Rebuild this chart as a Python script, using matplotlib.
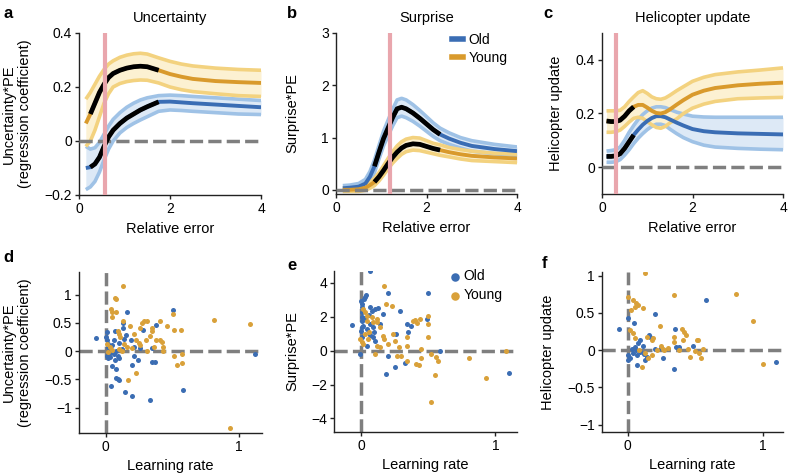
import numpy as np
import matplotlib
matplotlib.use("Agg")
import matplotlib.pyplot as plt
from matplotlib.lines import Line2D

plt.rcParams['font.family'] = ['Liberation Sans', 'DejaVu Sans']

# ---------------- data: panel a (Uncertainty) ----------------
a_x = [0.15, 0.25, 0.35, 0.45, 0.55, 0.65, 0.75, 0.9, 1.05, 1.2, 1.35, 1.5, 1.75, 2.0, 2.25, 2.5, 3.0, 3.5, 4.0]
a_young = [0.065, 0.10, 0.14, 0.18, 0.21, 0.235, 0.25, 0.262, 0.27, 0.275, 0.277, 0.275, 0.262, 0.248, 0.238, 0.23, 0.222, 0.218, 0.215]
a_young_hi = [0.155, 0.18, 0.21, 0.24, 0.265, 0.285, 0.297, 0.31, 0.318, 0.323, 0.325, 0.322, 0.308, 0.295, 0.285, 0.278, 0.27, 0.265, 0.262]
a_young_lo = [-0.02, 0.0, 0.04, 0.09, 0.14, 0.175, 0.2, 0.213, 0.22, 0.224, 0.226, 0.225, 0.215, 0.2, 0.19, 0.183, 0.175, 0.168, 0.165]
a_old = [-0.1, -0.097, -0.085, -0.06, -0.02, 0.015, 0.04, 0.065, 0.085, 0.1, 0.115, 0.127, 0.145, 0.146, 0.143, 0.14, 0.135, 0.13, 0.125]
a_old_hi = [-0.02, -0.03, -0.025, -0.005, 0.025, 0.055, 0.08, 0.105, 0.125, 0.14, 0.152, 0.16, 0.168, 0.17, 0.168, 0.165, 0.16, 0.155, 0.15]
a_old_lo = [-0.18, -0.17, -0.15, -0.115, -0.07, -0.03, 0.0, 0.03, 0.05, 0.065, 0.078, 0.09, 0.11, 0.115, 0.113, 0.11, 0.105, 0.1, 0.098]
a_sig_young = (0.25, 1.75)
a_sig_old = (0.25, 1.75)
a_marker = 0.57

# ---------------- data: panel b (Surprise) ----------------
b_x = [0.15, 0.3, 0.5, 0.65, 0.75, 0.85, 0.95, 1.05, 1.15, 1.25, 1.35, 1.45, 1.55, 1.7, 1.85, 2.0, 2.15, 2.3, 2.5, 2.75, 3.0, 3.5, 4.0]
b_old = [0.03, 0.04, 0.06, 0.12, 0.25, 0.45, 0.72, 0.98, 1.18, 1.38, 1.55, 1.58, 1.55, 1.47, 1.37, 1.26, 1.15, 1.06, 0.98, 0.9, 0.84, 0.78, 0.74]
b_old_sem = [0.05, 0.05, 0.06, 0.08, 0.1, 0.12, 0.13, 0.14, 0.15, 0.16, 0.17, 0.17, 0.17, 0.16, 0.15, 0.14, 0.13, 0.12, 0.11, 0.1, 0.1, 0.09, 0.08]
b_young = [0.0, 0.0, 0.01, 0.04, 0.09, 0.15, 0.25, 0.37, 0.5, 0.62, 0.72, 0.8, 0.85, 0.88, 0.87, 0.83, 0.79, 0.76, 0.72, 0.68, 0.65, 0.62, 0.6]
b_young_sem = [0.03, 0.03, 0.04, 0.05, 0.06, 0.07, 0.08, 0.09, 0.1, 0.11, 0.12, 0.12, 0.12, 0.12, 0.12, 0.11, 0.1, 0.1, 0.09, 0.09, 0.09, 0.08, 0.08]
b_sig_young = (0.85, 2.3)
b_sig_old = (0.85, 2.3)
b_marker = 1.2

# ---------------- data: panel c (Helicopter update) ----------------
c_x = [0.1, 0.2, 0.3, 0.4, 0.5, 0.6, 0.7, 0.8, 0.9, 1.0, 1.1, 1.2, 1.3, 1.4, 1.5, 1.65, 1.8, 2.0, 2.25, 2.5, 3.0, 3.5, 4.0]
c_young = [0.172, 0.17, 0.17, 0.175, 0.19, 0.21, 0.225, 0.232, 0.232, 0.222, 0.21, 0.202, 0.2, 0.205, 0.215, 0.233, 0.25, 0.27, 0.285, 0.295, 0.305, 0.311, 0.315]
c_young_hi = [0.21, 0.21, 0.21, 0.212, 0.225, 0.245, 0.262, 0.278, 0.285, 0.275, 0.262, 0.255, 0.253, 0.258, 0.268, 0.285, 0.3, 0.32, 0.335, 0.345, 0.355, 0.362, 0.37]
c_young_lo = [0.13, 0.13, 0.132, 0.138, 0.152, 0.168, 0.182, 0.186, 0.182, 0.17, 0.158, 0.148, 0.145, 0.152, 0.165, 0.18, 0.2, 0.22, 0.235, 0.245, 0.255, 0.258, 0.26]
c_old = [0.04, 0.04, 0.042, 0.05, 0.07, 0.095, 0.12, 0.14, 0.158, 0.172, 0.183, 0.19, 0.19, 0.186, 0.178, 0.166, 0.155, 0.142, 0.134, 0.13, 0.126, 0.124, 0.122]
c_old_hi = [0.06, 0.062, 0.065, 0.075, 0.1, 0.13, 0.155, 0.178, 0.196, 0.21, 0.22, 0.225, 0.225, 0.222, 0.215, 0.205, 0.198, 0.19, 0.187, 0.186, 0.186, 0.186, 0.186]
c_old_lo = [0.018, 0.018, 0.02, 0.028, 0.045, 0.065, 0.088, 0.108, 0.125, 0.14, 0.152, 0.16, 0.16, 0.155, 0.142, 0.125, 0.11, 0.095, 0.082, 0.075, 0.07, 0.067, 0.065]
c_sig_young = (0.1, 0.7)
c_sig_old = (0.1, 0.75)
c_marker = 0.31

# ---------------- data: panel d ----------------
d_old_x = [-0.07, 0.01, 0.005, 0.01, 0.015, 0.02, 0.01, 0.015, 0.07, 0.13, 0.13, 0.16, 0.5, 0.38, 0.28, 0.14, 0.19, 0.21, 0.35, 0.35, 0.37, 0.21, 0.24, 0.2, 0.045, 0.07, 0.08, 0.03, 0.06, 0.09, 0.08, 0.09, 0.1, 0.04, 0.145, 0.2, 0.33, 0.58, 1.12, 0.04, 0.05, 0.1, 0.12, 0.08, 0.03, 0.1, 0.15, 0.06, 0.26]
d_old_y = [0.24, 0.34, 0.25, 0.19, 0.12, 0.07, -0.08, -0.12, 0.36, 0.49, 0.41, 0.69, 0.72, 0.47, 0.38, 0.22, 0.19, 0.07, 0.06, -0.2, -0.2, -0.08, -0.16, -0.25, -0.27, -0.16, -0.31, -0.1, -0.05, -0.08, -0.47, -0.49, -0.52, -0.62, -0.72, -0.79, -0.86, -0.68, -0.06, 0.02, 0.1, 0.15, 0.03, 0.0, -0.03, -0.12, 0.28, 0.2, 0.05]
d_young_x = [0.13, 0.07, 0.08, 0.04, 0.045, 0.08, 0.045, 0.81, 1.08, 0.27, 0.29, 0.31, 0.41, 0.5, 0.51, 0.56, 0.46, 0.35, 0.35, 0.26, 0.095, 0.1, 0.11, 0.13, 0.18, 0.21, 0.23, 0.26, 0.3, 0.33, 0.38, 0.41, 0.42, 0.43, 0.43, 0.51, 0.53, 0.57, 0.57, 0.23, 0.17, 0.93, 0.01, 0.03, 0.05, 0.1, 0.12, 0.16, 0.2, 0.36, 0.31, 0.02, 0.14, 0.25]
d_young_y = [1.16, 0.94, 0.92, 0.75, 0.69, 0.7, 0.6, 0.55, 0.48, 0.5, 0.53, 0.54, 0.53, 0.66, 0.38, 0.38, 0.45, 0.41, 0.35, 0.4, 0.36, 0.3, 0.25, 0.54, 0.45, 0.31, 0.19, 0.1, 0.19, 0.26, 0.19, 0.19, 0.16, 0.07, 0.01, -0.08, -0.24, -0.21, -0.05, -0.39, -0.52, -1.37, 0.13, 0.07, 0.02, 0.04, 0.0, 0.08, 0.05, 0.07, 0.0, -0.02, 0.12, 0.15]

# ---------------- data: panel e ----------------
e_old_x = [-0.064, 0.067, 0.0, 0.005, 0.005, 0.005, 0.005, 0.005, 0.005, 0.0, 0.005, 0.02, 0.037, 0.03, 0.067, 0.08, 0.104, 0.129, 0.166, 0.2, 0.5, 0.29, 0.34, 0.375, 0.35, 0.49, 0.26, 0.067, 0.09, 0.104, 0.042, -0.007, 0.2, 0.25, 0.19, 0.33, 0.59, 1.1, 0.017, 0.042, 0.067, 0.092, 0.06, 0.1, 0.03, 0.14]
e_old_y = [1.52, 4.69, 2.95, 2.75, 2.55, 2.27, 1.97, 1.77, 1.38, 1.18, 0.79, 3.05, 3.3, 3.15, 2.56, 2.36, 2.46, 2.5, 2.17, 3.4, 3.4, 2.36, 1.57, 1.48, 1.08, 1.87, 1.0, 0.9, 0.79, 0.59, 0.3, -0.2, -0.3, -0.95, -1.38, -0.75, 0.0, -1.34, 1.48, 1.28, 1.58, 1.38, 2.1, 1.1, 1.9, 1.6]
e_young_x = [0.17, 0.19, 0.23, 0.017, 0.03, 0.042, 0.042, 0.08, 0.092, 0.116, 0.116, 0.141, 0.166, 0.171, 0.24, 0.25, 0.39, 0.4, 0.415, 0.44, 0.5, 0.5, 0.5, 0.34, 0.34, -0.007, 0.005, 0.017, 0.104, 0.141, 0.265, 0.3, 0.34, 0.413, 0.433, 0.45, 0.52, 0.56, 0.57, 0.55, 0.52, 0.8, 0.93, 1.08, 0.05, 0.06, 0.03, 0.2, 0.12, 0.28, 0.45]
e_young_y = [3.84, 2.76, 2.66, 2.46, 2.27, 2.07, 1.77, 1.97, 1.67, 1.87, 1.67, 1.38, 0.89, 0.69, 1.0, 0.59, 1.77, 1.81, 1.62, 1.87, 2.07, 0.79, 1.58, 0.79, 0.3, 0.69, 0.49, 0.4, -0.2, 0.2, -0.33, -0.3, -0.63, -0.79, -0.83, -0.45, -0.2, -0.35, -0.63, -1.42, -3.05, -0.43, -1.64, 0.0, 0.7, 1.1, 1.0, 0.4, 0.3, 0.2, 0.1]

# ---------------- data: panel f ----------------
f_old_x = [-0.064, 0.005, 0.05, 0.2, 0.58, 0.35, 0.16, 0.165, 0.09, 0.08, 0.055, 0.065, 0.0, 0.017, 0.005, 0.066, 0.128, 0.14, 0.26, 0.34, 0.36, 0.38, 0.48, 1.1, 0.04, 0.07, 0.095, 0.11, 0.03, 0.12, 0.2, 0.25]
f_old_y = [0.28, 0.43, 0.36, 0.48, 0.68, 0.28, 0.2, 0.18, 0.13, 0.09, 0.04, 0.0, -0.07, -0.11, -0.13, -0.2, -0.13, -0.09, -0.11, -0.26, 0.04, 0.04, 0.05, -0.16, -0.04, -0.07, -0.02, 0.06, 0.02, -0.05, 0.02, 0.03]
f_young_x = [0.13, 0.34, 0.8, 0.93, 0.0, 0.042, 0.062, 0.08, 0.054, 0.11, 0.022, 0.24, 0.4, 0.42, 0.43, 0.41, 0.34, 0.34, 0.51, 0.52, 0.56, 0.53, 0.54, 0.46, 0.5, 0.017, 0.042, 0.054, 0.14, 0.177, 0.19, 0.25, 0.26, 0.27, 0.177, 0.103, 1.0, 0.086, 0.128, 0.15, 0.22, 0.3, 0.38, 0.45]
f_young_y = [1.03, 0.74, 0.76, 0.39, 0.71, 0.67, 0.63, 0.61, 0.58, 0.56, 0.54, 0.32, 0.29, 0.25, 0.2, 0.14, 0.18, 0.11, 0.14, 0.14, 0.02, -0.04, -0.11, -0.09, -0.01, 0.27, 0.23, 0.16, 0.18, 0.13, 0.16, 0.05, 0.02, 0.0, -0.07, -0.22, -0.18, 0.0, -0.04, -0.11, 0.0, 0.03, 0.0, 0.02]

titles = ["Uncertainty", "Surprise", "Helicopter update"]
letters = ["a", "b", "c", "d", "e", "f"]

# ---------------- styles ----------------
BLUE = "#3a6db4"
BLUE_EDGE = "#9fc2e6"
BLUE_FILL = "#dde9f6"
GOLD = "#d99a2c"
GOLD_EDGE = "#f3d27f"
GOLD_FILL = "#fcf1d2"
PINK = "#e9a6ad"
GRAY = "#7f7f7f"
BLUE_DOT = "#3b6db3"
GOLD_DOT = "#d9a13a"

W, H = 788, 473
fig = plt.figure(figsize=(W / 100, H / 100), dpi=100)


def ax_px(x0, x1, ytop, ybot):
    return fig.add_axes([x0 / W, (H - ybot) / H, (x1 - x0) / W, (ybot - ytop) / H])


def style(ax):
    for s in ["top", "right"]:
        ax.spines[s].set_visible(False)
    for s in ["left", "bottom"]:
        ax.spines[s].set_linewidth(1.0)
        ax.spines[s].set_color("#222222")
    ax.tick_params(direction="out", length=3, width=1, labelsize=10, pad=2, colors="#222222")
    for lab in ax.get_xticklabels() + ax.get_yticklabels():
        lab.set_color("black")


def band(ax, x, m, lo, hi, col, edge, fill, sig):
    x = np.asarray(x)
    m = np.asarray(m)
    ax.fill_between(x, lo, hi, color=fill, lw=0, zorder=1)
    ax.plot(x, lo, color=edge, lw=2.6, zorder=2, solid_capstyle="butt")
    ax.plot(x, hi, color=edge, lw=2.6, zorder=2, solid_capstyle="butt")
    ax.plot(x, m, color=col, lw=2.8, zorder=3, solid_capstyle="butt")
    mask = (x >= sig[0] - 1e-9) & (x <= sig[1] + 1e-9)
    ax.plot(x[mask], m[mask], color="black", lw=3.4, zorder=4, solid_capstyle="butt")


top_boxes = [(79, 261, 33, 195), (336, 517, 33, 194), (602, 783, 33, 194)]
bot_boxes = [(79, 262, 272, 433), (334, 517, 271, 432), (602, 783, 272, 432)]

axes_top = [ax_px(*b) for b in top_boxes]
axes_bot = [ax_px(*b) for b in bot_boxes]

# panel a
ax = axes_top[0]
band(ax, a_x, a_old, a_old_lo, a_old_hi, BLUE, BLUE_EDGE, BLUE_FILL, a_sig_old)
band(ax, a_x, a_young, a_young_lo, a_young_hi, GOLD, GOLD_EDGE, GOLD_FILL, a_sig_young)
ax.axhline(0, color=GRAY, lw=2.5, dashes=(3.8, 1.5), zorder=3.5)
ax.axvline(a_marker, color=PINK, lw=3, zorder=5)
ax.set_xlim(0, 4)
ax.set_ylim(-0.2, 0.4)
ax.set_yticks([-0.2, 0, 0.2, 0.4])
ax.set_yticklabels(["\u22120.2", "0", "0.2", "0.4"])
ax.set_ylabel("Uncertainty*PE\n(regression coefficient)", fontsize=10.5, linespacing=1.15)
ax.yaxis.set_label_coords(-0.26, 0.5)

# panel b
ax = axes_top[1]
band(ax, b_x, b_old, np.array(b_old) - np.array(b_old_sem), np.array(b_old) + np.array(b_old_sem),
     BLUE, BLUE_EDGE, BLUE_FILL, b_sig_old)
band(ax, b_x, b_young, np.array(b_young) - np.array(b_young_sem), np.array(b_young) + np.array(b_young_sem),
     GOLD, GOLD_EDGE, GOLD_FILL, b_sig_young)
ax.axhline(0, color=GRAY, lw=2.5, dashes=(3.8, 1.5), zorder=3.5)
ax.axvline(b_marker, color=PINK, lw=3, zorder=5)
ax.set_xlim(0, 4)
ax.set_ylim(-0.08, 3)
ax.set_yticks([0, 1, 2, 3])
ax.set_ylabel("Surprise*PE", fontsize=10.5)
ax.yaxis.set_label_coords(-0.2, 0.5)
handles = [Line2D([], [], color=BLUE, lw=4), Line2D([], [], color=GOLD, lw=4)]
ax.legend(handles, ["Old", "Young"], loc="upper left", bbox_to_anchor=(0.64, 1.0), frameon=False,
          fontsize=10, handlelength=0.8, handletextpad=0.4, labelspacing=0.3, borderpad=0, borderaxespad=0)

# panel c
ax = axes_top[2]
band(ax, c_x, c_old, c_old_lo, c_old_hi, BLUE, BLUE_EDGE, BLUE_FILL, c_sig_old)
band(ax, c_x, c_young, c_young_lo, c_young_hi, GOLD, GOLD_EDGE, GOLD_FILL, c_sig_young)
ax.axhline(0, color=GRAY, lw=2.5, dashes=(3.8, 1.5), zorder=3.5)
ax.axvline(c_marker, color=PINK, lw=3, zorder=5)
ax.set_xlim(0, 4)
ax.set_ylim(-0.1, 0.5)
ax.set_yticks([0, 0.2, 0.4])
ax.set_yticklabels(["0", "0.2", "0.4"])
ax.set_ylabel("Helicopter update", fontsize=10.5)
ax.yaxis.set_label_coords(-0.215, 0.5)

for i, ax in enumerate(axes_top):
    ax.set_xticks([0, 2, 4])
    ax.set_xlabel("Relative error", fontsize=10.5)
    ax.xaxis.set_label_coords(0.5, -0.165)
    ax.set_title(titles[i], fontsize=10.5, pad=8)
    style(ax)

# scatter panels
scat = [
    (d_old_x, d_old_y, d_young_x, d_young_y, (-1.45, 1.4), [-1, -0.5, 0, 0.5, 1],
     ["\u22121", "\u22120.5", "0", "0.5", "1"], "Uncertainty*PE\n(regression coefficient)", -0.257, (-0.2, 1.17)),
    (e_old_x, e_old_y, e_young_x, e_young_y, (-4.8, 4.7), [-4, -2, 0, 2, 4],
     ["\u22124", "\u22122", "0", "2", "4"], "Surprise*PE", -0.19, (-0.2, 1.16)),
    (f_old_x, f_old_y, f_young_x, f_young_y, (-1.1, 1.05), [-1, -0.5, 0, 0.5, 1],
     ["\u22121", "\u22120.5", "0", "0.5", "1"], "Helicopter update", -0.26, (-0.19, 1.15)),
]
for i, (ax, (ox, oy, yx, yy, yl, yt, ytl, ylab, lx, xl)) in enumerate(zip(axes_bot, scat)):
    ax.axhline(0, color=GRAY, lw=2.5, dashes=(3.8, 1.5), zorder=1)
    ax.axvline(0, color=GRAY, lw=2.5, dashes=(3.8, 1.5), zorder=1)
    ax.scatter(ox, oy, s=13, color=BLUE_DOT, lw=0, zorder=2, label="Old")
    ax.scatter(yx, yy, s=13, color=GOLD_DOT, lw=0, zorder=2, label="Young")
    ax.set_xlim(*xl)
    ax.set_ylim(*yl)
    ax.set_yticks(yt)
    ax.set_yticklabels(ytl)
    ax.set_xticks([0, 1])
    ax.set_xlabel("Learning rate", fontsize=10.5)
    ax.xaxis.set_label_coords(0.5, -0.16)
    ax.set_ylabel(ylab, fontsize=10.5, linespacing=1.15)
    ax.yaxis.set_label_coords(lx, 0.5)
    style(ax)
    if i == 1:
        ax.legend(loc="upper left", bbox_to_anchor=(0.64, 1.01), frameon=False, fontsize=10,
                  markerscale=1.7, handlelength=0.6, handletextpad=0.3, labelspacing=0.35,
                  borderpad=0, borderaxespad=0)

# panel letters
letter_pos = [(8, 13), (292, 13), (548, 13), (8, 257), (292, 265), (545, 264)]
for l, (px, py) in zip(letters, letter_pos):
    fig.text(px / W, (H - py) / H, l, fontsize=12, fontweight="bold", ha="center", va="center")

fig.savefig("out.png", dpi=100)
